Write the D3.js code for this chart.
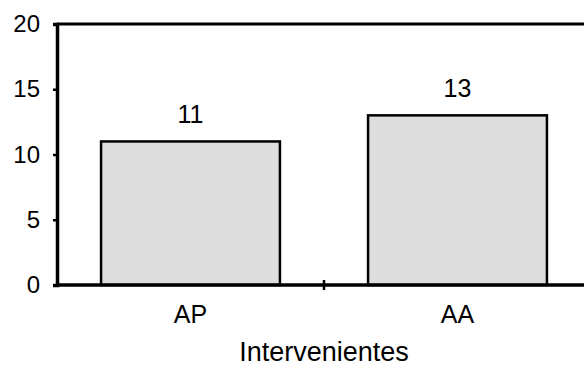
<!DOCTYPE html>
<html>
<head>
<meta charset="utf-8">
<script src="https://cdn.jsdelivr.net/npm/d3@7"></script>
<style>
  html, body { margin: 0; padding: 0; background: #fff; }
  svg { display: block; }
  text { font-family: "Liberation Sans", Arial, sans-serif; fill: #000; }
</style>
</head>
<body>
<svg id="chart" width="584" height="367"></svg>
<script>
const categories = ["AP", "AA"];
const values = [11, 13];
const yTicks = [0, 5, 10, 15, 20];
const xTitle = "Intervenientes";

const svg = d3.select("#chart");
const x0 = 57, x1 = 591, yTop = 24, yBottom = 285;

const x = d3.scaleBand().domain(categories).range([x0, x1]).paddingInner(0.33).paddingOuter(0.165);
const xb = d3.scaleBand().domain(categories).range([x0, x1]);
const y = d3.scaleLinear().domain([0, 20]).range([yBottom, yTop]);

// bars
svg.selectAll("rect.bar").data(values).enter().append("rect")
  .attr("class", "bar")
  .attr("x", (d, i) => x(categories[i]))
  .attr("width", x.bandwidth())
  .attr("y", d => y(d))
  .attr("height", d => y(0) - y(d))
  .attr("fill", "#dddddd")
  .attr("stroke", "#000")
  .attr("stroke-width", 2.5);

// top frame line
svg.append("line")
  .attr("x1", x0).attr("x2", 584)
  .attr("y1", y(20)).attr("y2", y(20))
  .attr("stroke", "#000").attr("stroke-width", 3);

// y axis
const yAxis = d3.axisLeft(y).tickValues(yTicks).tickSize(4).tickPadding(13);
const gy = svg.append("g").attr("transform", `translate(${x0},0)`).call(yAxis);
gy.select(".domain").attr("stroke", "#000").attr("stroke-width", 3.5);
gy.selectAll(".tick line").attr("stroke", "#000").attr("stroke-width", 2.5);
gy.selectAll(".tick text").attr("font-size", 24).attr("font-family", "Liberation Sans, Arial, sans-serif");

// x axis line
svg.append("line")
  .attr("x1", x0).attr("x2", 584)
  .attr("y1", yBottom).attr("y2", yBottom)
  .attr("stroke", "#000").attr("stroke-width", 3.5);

// x tick between categories
svg.selectAll("line.xtick").data(categories.slice(1)).enter().append("line")
  .attr("class", "xtick")
  .attr("x1", d => xb(d)).attr("x2", d => xb(d))
  .attr("y1", yBottom - 5).attr("y2", yBottom + 5)
  .attr("stroke", "#000").attr("stroke-width", 2.5);

// category labels
svg.selectAll("text.cat").data(categories).enter().append("text")
  .attr("class", "cat")
  .attr("x", d => x(d) + x.bandwidth() / 2)
  .attr("y", 323)
  .attr("text-anchor", "middle")
  .attr("font-size", 25)
  .text(d => d);

// value labels
svg.selectAll("text.val").data(values).enter().append("text")
  .attr("class", "val")
  .attr("x", (d, i) => x(categories[i]) + x.bandwidth() / 2)
  .attr("y", d => y(d) - 18)
  .attr("text-anchor", "middle")
  .attr("font-size", 25)
  .text(d => d);

// axis title
svg.append("text")
  .attr("x", (x0 + x1) / 2)
  .attr("y", 361)
  .attr("text-anchor", "middle")
  .attr("font-size", 27)
  .text(xTitle);
</script>
</body>
</html>
